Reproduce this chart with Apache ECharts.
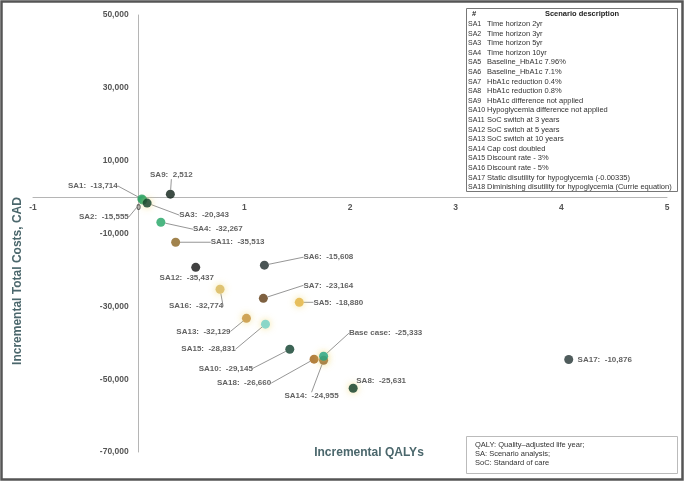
<!DOCTYPE html>
<html>
<head>
<meta charset="utf-8">
<script src="https://cdn.jsdelivr.net/npm/echarts@6/dist/echarts.min.js"></script>
<style>
html,body{margin:0;padding:0;background:#fff;}
#chart{width:685px;height:485px;}
</style>
</head>
<body>
<div id="chart"></div>
<script>
// ---- Data ----
const scenarioNames = ['SA1','SA2','SA3','SA4','SA5','SA6','SA7','SA8','SA9','SA10','SA11','SA12','SA13','SA14','SA15','SA16','SA17','SA18','Base case'];
const incrementalQalys = [0.03,0.04,0.08,0.21,1.52,1.19,1.18,2.03,0.30,1.43,0.35,0.54,1.02,1.75,1.20,0.77,4.07,1.66,1.75];
const incrementalCosts = [-500,-800,-1650,-6900,-28900,-18700,-27800,-52500,800,-41800,-12400,-19300,-33300,-44800,-34900,-25300,-44600,-44500,-43700];
const icerValues = [-13714,-15555,-20343,-32267,-18880,-15608,-23164,-25631,2512,-29145,-35513,-35437,-32129,-24955,-28831,-32774,-10876,-26660,-25333];

const xTicks = [-1,0,1,2,3,4,5];
const yTickLabels = [-70000,-50000,-30000,-10000,10000,30000,50000];

const tableIds = ['SA1','SA2','SA3','SA4','SA5','SA6','SA7','SA8','SA9','SA10','SA11','SA12','SA13','SA14','SA15','SA16','SA17','SA18'];
const tableDescriptions = [
  'Time horizon 2yr','Time horizon 3yr','Time horizon 5yr','Time horizon 10yr',
  'Baseline_HbA1c 7.96%','Baseline_HbA1c 7.1%','HbA1c reduction 0.4%','HbA1c reduction 0.8%',
  'HbA1c difference not applied','Hypoglycemia difference not applied',
  'SoC switch at 3 years','SoC switch at 5 years','SoC switch at 10 years',
  'Cap cost doubled','Discount rate - 3%','Discount rate - 5%',
  'Static disutility for hypoglycemia (-0.00335)',
  'Diminishing disutility for hypoglycemia (Currie equation)'
];
const footnotes = ['QALY: Quality\u2013adjusted life year;','SA: Scenario analysis;','SoC: Standard of care'];

// ---- Styles (not data) ----
const pointColors = ['#1e9e5e','#24a268','#0e3b27','#1fa463','#e2b23e','#1d2b2b','#5e3a12','#0b3a24','#0d1f16','#0b3d2b','#8a6420','#121212','#c4913a','#8b5b20','#6fcfc5','#d8b65a','#233333','#a0600f','#1fa383'];
const pointGlow = [false,false,true,false,true,false,false,true,false,false,false,false,true,true,true,true,false,false,true];
const labelOffsets = [[-49,-13],[-39,17],[57,12],[57,7],[39,0],[64,-8],[65,-13],[28,-7],[1,-19],[-64,19],[62,0],[-9,10],[-43,13],[-12,36],[-57,25],[-24,17],[36,0],[-70,24],[62,-23]];
const noLine = [false,false,false,false,false,false,false,true,false,false,false,true,false,false,false,false,true,false,false];

function fmt(v){ return v.toLocaleString('en-US'); }

const points = scenarioNames.map((n,i)=>({
  name: n,
  value: [incrementalQalys[i], incrementalCosts[i]],
  itemStyle: {
    color: pointColors[i],
    shadowBlur: pointGlow[i] ? 7 : 0,
    shadowColor: 'rgba(240,215,110,0.9)'
  },
  labelLine: { show: !noLine[i] }
}));

const titleColor = '#4b676c';
const graphics = [];
// outer frame
graphics.push({type:'rect', shape:{x:1.5,y:1.5,width:681,height:478}, style:{fill:null, stroke:'#555', lineWidth:2.5}, silent:true});
// table
graphics.push({type:'rect', shape:{x:466.5,y:8.5,width:211,height:183}, style:{fill:'#fff', stroke:'#777', lineWidth:1}, silent:true});
graphics.push({type:'text', x:472, y:14, style:{text:'#', font:'bold 7.5px "Liberation Sans", Arial, sans-serif', fill:'#222', verticalAlign:'middle'}});
graphics.push({type:'text', x:582, y:14, style:{text:'Scenario description', font:'bold 7.5px "Liberation Sans", Arial, sans-serif', fill:'#222', align:'center', verticalAlign:'middle'}});
tableIds.forEach((id,i)=>{
  const y = 24 + i*9.6;
  graphics.push({type:'text', x:468, y:y, style:{text:id, font:'7px "Liberation Sans", Arial, sans-serif', fill:'#333', verticalAlign:'middle'}});
  graphics.push({type:'text', x:487, y:y, style:{text:tableDescriptions[i], font:'7.5px "Liberation Sans", Arial, sans-serif', fill:'#333', verticalAlign:'middle'}});
});
// footnote box
graphics.push({type:'rect', shape:{x:466.5,y:436.5,width:211,height:37}, style:{fill:'#fff', stroke:'#bbb', lineWidth:1}, silent:true});
footnotes.forEach((t,i)=>{
  graphics.push({type:'text', x:475, y:445 + i*9.2, style:{text:t, font:'7.5px "Liberation Sans", Arial, sans-serif', fill:'#333', verticalAlign:'middle'}});
});
// axis titles
graphics.push({type:'text', x:369, y:453, style:{text:'Incremental QALYs', font:'bold 12px "Liberation Sans", Arial, sans-serif', fill:titleColor, align:'center', verticalAlign:'middle'}});
graphics.push({type:'text', x:18, y:281, rotation:Math.PI/2, style:{text:'Incremental Total Costs, CAD', font:'bold 12px "Liberation Sans", Arial, sans-serif', fill:titleColor, align:'center', verticalAlign:'middle'}});

// grid geometry: x from -1 to 5 over [33, 667]; y from 50,000 to -70,000 over [15, 452]
const gridLeft = 33, gridRight = 18, gridTop = 15, gridBottom = 33;
const gridW = 685 - gridLeft - gridRight, gridH = 485 - gridTop - gridBottom;
const xZeroPx = gridLeft + gridW * (0 - xTicks[0]) / (xTicks[xTicks.length-1] - xTicks[0]);
const yZeroPx = gridTop + gridH * (50000 - 0) / (50000 - (-70000));

const chart = echarts.init(document.getElementById('chart'), null, {renderer:'canvas'});
chart.setOption({
  animation: false,
  backgroundColor: '#fff',
  grid: { left: gridLeft, right: gridRight, top: gridTop, bottom: gridBottom, outerBoundsMode: 'none' },
  xAxis: {
    type: 'value', min: xTicks[0], max: xTicks[xTicks.length-1], interval: 1,
    position: 'bottom',
    offset: -((485 - gridBottom) - yZeroPx),
    splitLine: {show:false},
    axisTick: {show:false},
    axisLine: {onZero:false, lineStyle:{color:'#b5b5b5', width:1}},
    axisLabel: {color:'#555', fontWeight:'bold', fontSize:8.5, margin:6, fontFamily:'"Liberation Sans", Arial, sans-serif',
      formatter: v => xTicks.includes(v) ? String(v) : ''}
  },
  yAxis: {
    type: 'value', min: -70000, max: 50000, interval: 10000,
    position: 'left',
    offset: -(xZeroPx - gridLeft),
    splitLine: {show:false},
    axisTick: {show:false},
    axisLine: {onZero:false, lineStyle:{color:'#b5b5b5', width:1}},
    axisLabel: {color:'#555', fontWeight:'bold', fontSize:8.5, margin:10, fontFamily:'"Liberation Sans", Arial, sans-serif',
      formatter: v => yTickLabels.includes(Math.round(v)) ? fmt(Math.round(v)) : ''}
  },
  series: [{
    type: 'scatter',
    symbolSize: 9,
    data: points,
    label: {
      show: true, position: 'inside', align: 'center', verticalAlign: 'middle',
      color: '#3a3a3a', fontWeight: 'bold', fontSize: 8, fontFamily: '"Liberation Sans", Arial, sans-serif',
      formatter: p => p.name + ':  ' + fmt(icerValues[p.dataIndex])
    },
    labelLine: { show: true, lineStyle: { color: '#8a8a8a', width: 0.9 } },
    labelLayout: p => ({ dx: labelOffsets[p.dataIndex][0], dy: labelOffsets[p.dataIndex][1], hideOverlap: false })
  }],
  graphic: graphics
});
</script>
</body>
</html>
